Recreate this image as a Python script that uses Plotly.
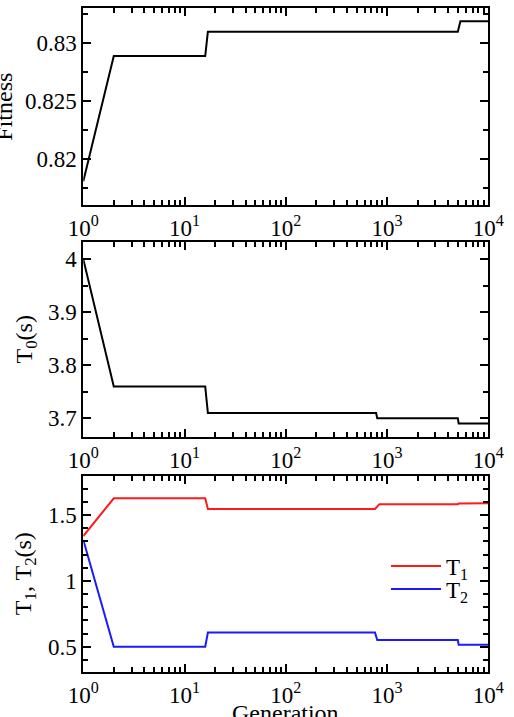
import plotly.graph_objects as go
from plotly.subplots import make_subplots

# ---------------- data ----------------
gen_fit = [1, 2, 16, 17, 5000, 5300, 10000]
fitness = [0.8181, 0.8289, 0.8289, 0.8310, 0.8310, 0.8319, 0.8319]

gen_t0 = [1, 2, 16, 17, 780, 800, 5000, 5100, 10000]
t0 = [4.00, 3.76, 3.76, 3.71, 3.71, 3.70, 3.70, 3.69, 3.69]

gen_t1 = [1, 2, 16, 17, 760, 840, 5000, 5100, 10000]
t1 = [1.34, 1.627, 1.627, 1.546, 1.546, 1.582, 1.582, 1.588, 1.590]

gen_t2 = [1, 2, 16, 17, 760, 800, 5000, 5100, 10000]
t2 = [1.31, 0.50, 0.50, 0.608, 0.608, 0.551, 0.551, 0.515, 0.515]

x_tickvals = [1, 10, 100, 1000, 10000]
x_ticktext = ["10<sup>0</sup>", "10<sup>1</sup>", "10<sup>2</sup>", "10<sup>3</sup>", "10<sup>4</sup>"]

# ---------------- figure ----------------
W, H = 514, 717
FONT = "Liberation Serif"
FS_TICK = 23
FS_TITLE = 24

fig = make_subplots(rows=3, cols=1)

fig.add_trace(go.Scatter(x=gen_fit, y=fitness, mode="lines",
                         line=dict(color="black", width=2), showlegend=False), row=1, col=1)
fig.add_trace(go.Scatter(x=gen_t0, y=t0, mode="lines",
                         line=dict(color="black", width=2), showlegend=False), row=2, col=1)
fig.add_trace(go.Scatter(x=gen_t1, y=t1, mode="lines", name="T<sub>1</sub>",
                         line=dict(color="#ff1a1a", width=2), legend="legend"), row=3, col=1)
fig.add_trace(go.Scatter(x=gen_t2, y=t2, mode="lines", name="T<sub>2</sub>",
                         line=dict(color="#1a1aff", width=2), legend="legend2"), row=3, col=1)

minor_x = [m * 10 ** d for d in range(4) for m in range(2, 10)]

x_left, x_right = 83.3, 488.3
panels = [(8.3, 205.0), (241.7, 437.3), (476.0, 672.3)]
yranges = [(0.81606, 0.83302), (3.6642, 4.0332), (0.3056, 1.796)]
ydticks = [(0.005, 0.0025), (0.1, 0.05), (0.5, 0.1)]
ytitles = ["Fitness", "T<sub>0</sub>(s)", "T<sub>1</sub>, T<sub>2</sub>(s)"]
ytitle_x = [4, 25, 25]

tickfont = dict(family=FONT, size=FS_TICK, color="black")

for i, ((top, bot), yr, (dt, mdt)) in enumerate(zip(panels, yranges, ydticks)):
    n = "" if i == 0 else str(i + 1)
    fig.layout["xaxis" + n].update(
        type="log", range=[0, 4], domain=[x_left / W, x_right / W],
        tickmode="array", tickvals=x_tickvals, ticktext=x_ticktext,
        ticks="inside", ticklen=8, tickwidth=1.5, tickcolor="black",
        showline=True, linecolor="black", linewidth=2, mirror="allticks",
        showgrid=False, zeroline=False, automargin=False,
        tickfont=tickfont, ticklabelstandoff=1,
        minor=dict(tickmode="array", tickvals=minor_x, ticks="inside",
                   ticklen=5, tickwidth=1.5, tickcolor="black", showgrid=False),
    )
    fig.layout["yaxis" + n].update(
        range=list(yr), domain=[1 - bot / H, 1 - top / H],
        dtick=dt, tick0=0,
        ticks="inside", ticklen=8, tickwidth=1.5, tickcolor="black",
        showline=True, linecolor="black", linewidth=2, mirror="allticks",
        showgrid=False, zeroline=False, ticklabelstandoff=0, automargin=False,
        tickfont=tickfont,
        minor=dict(dtick=mdt, tick0=0, ticks="inside", ticklen=5,
                   tickwidth=1.5, tickcolor="black", showgrid=False),
    )
    fig.add_annotation(text=ytitles[i], xref="paper", yref="paper",
                       x=ytitle_x[i] / W, y=1 - (top + bot) / 2 / H,
                       xanchor="center", yanchor="middle", textangle=-90,
                       showarrow=False, font=dict(family=FONT, size=FS_TITLE, color="black"))

fig.add_annotation(text="Generation", xref="paper", yref="paper",
                   x=(x_left + x_right) / 2 / W, y=1 - 698 / H,
                   xanchor="center", yanchor="top", showarrow=False,
                   font=dict(family=FONT, size=FS_TITLE, color="black"))

leg_common = dict(xanchor="left", yanchor="middle",
                  bgcolor="rgba(0,0,0,0)", borderwidth=0, itemwidth=50,
                  font=dict(family=FONT, size=23, color="black"))
fig.update_layout(
    template="none",
    width=W, height=H, margin=dict(l=0, r=0, t=0, b=0, autoexpand=False),
    paper_bgcolor="white", plot_bgcolor="white",
    font=dict(family=FONT, size=FS_TITLE, color="black"),
    legend=dict(x=386 / W, y=1 - 566 / H, **leg_common),
    legend2=dict(x=386 / W, y=1 - 589 / H, **leg_common),
)

fig.write_html("out.html")
